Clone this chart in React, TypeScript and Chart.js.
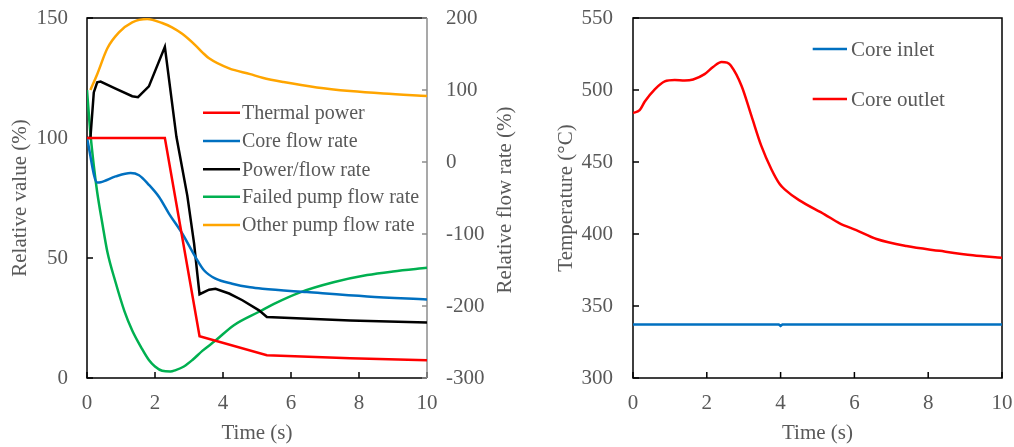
import React, { useEffect, useRef } from "react";
import { Chart, registerables } from "chart.js";
Chart.register(...registerables);

const FONT = "'Liberation Serif', 'Times New Roman', serif";
const TEXT = "#595959";

// ---------- Left panel data ----------
const T_THERMAL = [0, 2.29, 3.31, 5.29, 7.74, 10];
const THERMAL = [100, 100, 17.4, 9.5, 8.2, 7.4];

const T_CORE = [0, 0.3, 0.4, 0.84, 1.28, 1.53, 1.82, 2.12, 2.41, 2.8, 3.19, 3.44, 3.78, 4.27, 4.8, 5.16, 6.47, 8.24, 10];
const CORE = [100, 81.5, 81.6, 84, 85.4, 84.5, 80.5, 75.4, 68.5, 60.2, 50.4, 44.9, 41.4, 39.3, 37.8, 37.2, 35.8, 34, 32.7];

const T_RATIO = [0, 0.1, 0.2, 0.3, 0.4, 0.84, 1.33, 1.5, 1.82, 2.29, 2.63, 2.95, 3.15, 3.24, 3.31, 3.59, 3.78, 4.18, 4.57, 5.06, 5.29, 7.74, 10];
const RATIO = [100, 100, 119, 123.2, 123.5, 120.6, 117.4, 117, 121.5, 138, 100.5, 76, 56, 44, 34.9, 36.8, 37.2, 35.2, 32.4, 28.2, 25.4, 24, 23.1];

const T_FAILED = [0, 0.1, 0.2, 0.3, 0.45, 0.6, 0.84, 1.1, 1.33, 1.6, 1.82, 2.0, 2.21, 2.45, 2.61, 2.85, 3.1, 3.4, 3.78, 4.31, 5.06, 5.5, 6.27, 7.25, 8.24, 9, 10];
const FAILED = [100, 40, -5, -42, -85, -125, -167, -207, -234, -258, -275, -284, -290, -291, -289, -284, -275, -262, -248, -227, -208, -197, -181, -167, -157, -152, -147];

const T_OTHER = [0.1, 0.3, 0.6, 0.94, 1.33, 1.77, 2.21, 2.5, 2.8, 3.19, 3.4, 3.59, 4.18, 4.8, 5.16, 5.78, 6.76, 7.74, 8.72, 10];
const OTHER = [100, 122, 158, 180, 194, 198.5, 193, 187, 178, 162, 152, 144, 130, 122, 117, 111, 103.5, 98.5, 95, 91.7];

const LEFT_LABELS = ["Thermal power", "Core flow rate", "Power/flow rate", "Failed pump flow rate", "Other pump flow rate"];
const LEFT_COLORS = ["#FF0000", "#0070C0", "#000000", "#00B050", "#FFA500"];

// ---------- Right panel data ----------
const T_INLET = [0, 3.95, 4.0, 4.05, 10];
const INLET = [337.1, 337.1, 336.2, 337.1, 337.1];

const T_OUTLET = [0, 0.18, 0.32, 0.59, 0.86, 1.13, 1.4, 1.63, 1.94, 2.17, 2.4, 2.55, 2.65, 2.94, 3.21, 3.48, 3.75, 3.98, 4.11, 4.5, 5.2, 5.6, 6.05, 6.6, 7.41, 8.31, 9.21, 10];
const OUTLET = [484, 486, 492, 500.5, 506, 507, 506.6, 507.3, 511, 516, 519.5, 519, 517, 503, 482, 461, 445, 434.5, 431, 423.5, 413.5, 407.4, 402.7, 396.5, 391.6, 388.3, 385.3, 383.5];

const RIGHT_LABELS = ["Core inlet", "Core outlet"];
const RIGHT_COLORS = ["#0070C0", "#FF0000"];

const pts = (xs: number[], ys: number[]) => xs.map((x, i) => ({ x, y: ys[i] }));

const tickFont = { family: FONT, size: 21 };

const noPad = (s: any) => {
  s.paddingTop = 0;
  s.paddingBottom = 0;
  s.paddingLeft = 0;
  s.paddingRight = 0;
};

function drawLegend(ctx: CanvasRenderingContext2D, labels: string[], colors: string[], x0: number, x1: number, tx: number, ys: number[], size: number) {
  ctx.save();
  ctx.font = `${size}px ${FONT}`;
  ctx.textBaseline = "middle";
  ctx.textAlign = "left";
  labels.forEach((lab, i) => {
    ctx.strokeStyle = colors[i];
    ctx.lineWidth = 2.5;
    ctx.beginPath();
    ctx.moveTo(x0, ys[i]);
    ctx.lineTo(x1, ys[i]);
    ctx.stroke();
    ctx.fillStyle = TEXT;
    ctx.fillText(lab, tx, ys[i] + 1);
  });
  ctx.restore();
}

function LeftChart() {
  const ref = useRef<HTMLCanvasElement>(null);
  useEffect(() => {
    const mk = (label: string, xs: number[], ys: number[], color: string, axis: string, smooth: boolean) => ({
      label,
      data: pts(xs, ys),
      borderColor: color,
      backgroundColor: color,
      borderWidth: 2.5,
      pointRadius: 0,
      yAxisID: axis,
      cubicInterpolationMode: smooth ? "monotone" : "default",
      tension: 0,
    });
    const chart = new Chart(ref.current!, {
      type: "line",
      data: {
        datasets: [
          mk(LEFT_LABELS[0], T_THERMAL, THERMAL, LEFT_COLORS[0], "y", false),
          mk(LEFT_LABELS[1], T_CORE, CORE, LEFT_COLORS[1], "y", true),
          mk(LEFT_LABELS[2], T_RATIO, RATIO, LEFT_COLORS[2], "y", false),
          mk(LEFT_LABELS[3], T_FAILED, FAILED, LEFT_COLORS[3], "y2", true),
          mk(LEFT_LABELS[4], T_OTHER, OTHER, LEFT_COLORS[4], "y2", true),
        ] as any,
      },
      options: {
        animation: false,
        responsive: false,
        devicePixelRatio: 1,
        layout: { padding: { top: 18, left: 0, right: 0, bottom: 0 } },
        plugins: { legend: { display: false }, tooltip: { enabled: false } },
        scales: {
          x: {
            type: "linear",
            min: 0,
            max: 10,
            grid: { display: false, drawTicks: false },
            border: { display: false },
            ticks: { stepSize: 2, color: TEXT, font: tickFont, padding: 13, maxRotation: 0 },
            title: { display: true, text: "Time (s)", color: TEXT, font: tickFont, padding: { top: 0, bottom: 1.4 } },
            afterFit: (s: any) => { s.height = 69; noPad(s); },
          },
          y: {
            position: "left",
            min: 0,
            max: 150,
            grid: { display: false, drawTicks: false },
            border: { display: false },
            ticks: { stepSize: 50, color: TEXT, font: tickFont, padding: 19 },
            title: { display: true, text: "Relative value (%)", color: TEXT, font: tickFont, padding: { top: 8, bottom: 0 } },
            afterFit: (s: any) => { s.width = 87; noPad(s); },
          },
          y2: {
            position: "right",
            min: -300,
            max: 200,
            grid: { display: false, drawTicks: false },
            border: { display: false },
            ticks: { stepSize: 100, color: TEXT, font: tickFont, padding: 19 },
            title: { display: false },
            afterFit: (s: any) => { s.width = 103; noPad(s); },
          },
        },
      } as any,
      plugins: [
        {
          id: "leftFrame",
          beforeDatasetsDraw(c: any) {
            const { ctx, chartArea: a, scales } = c;
            ctx.save();
            ctx.lineWidth = 1.5;
            ctx.strokeStyle = "#000";
            ctx.beginPath();
            ctx.moveTo(a.right, a.top);
            ctx.lineTo(a.left, a.top);
            ctx.lineTo(a.left, a.bottom);
            ctx.lineTo(a.right, a.bottom);
            ctx.stroke();
            scales.x.ticks.forEach((t: any) => {
              const x = scales.x.getPixelForValue(t.value);
              ctx.beginPath(); ctx.moveTo(x, a.bottom); ctx.lineTo(x, a.bottom - 6); ctx.stroke();
            });
            scales.y.ticks.forEach((t: any) => {
              const y = scales.y.getPixelForValue(t.value);
              ctx.beginPath(); ctx.moveTo(a.left, y); ctx.lineTo(a.left + 6, y); ctx.stroke();
            });
            ctx.strokeStyle = "#8c8c8c";
            ctx.beginPath(); ctx.moveTo(a.right, a.top); ctx.lineTo(a.right, a.bottom); ctx.stroke();
            scales.y2.ticks.forEach((t: any) => {
              const y = scales.y2.getPixelForValue(t.value);
              ctx.beginPath(); ctx.moveTo(a.right, y); ctx.lineTo(a.right - 5, y); ctx.stroke();
            });
            ctx.restore();
          },
          afterDraw(c: any) {
            const ctx = c.ctx as CanvasRenderingContext2D;
            drawLegend(ctx, LEFT_LABELS, LEFT_COLORS, 203, 240, 242, [112.7, 141, 169.3, 196.7, 225], 20);
            ctx.save();
            ctx.font = `21px ${FONT}`;
            ctx.fillStyle = TEXT;
            ctx.textAlign = "center";
            ctx.textBaseline = "middle";
            ctx.translate(505, 200);
            ctx.rotate(-Math.PI / 2);
            ctx.fillText("Relative flow rate (%)", 0, 0);
            ctx.restore();
          },
        },
      ],
    });
    return () => chart.destroy();
  }, []);
  return <canvas ref={ref} width={530} height={447} style={{ position: "absolute", left: 0, top: 0, width: 530, height: 447 }} />;
}

function RightChart() {
  const ref = useRef<HTMLCanvasElement>(null);
  useEffect(() => {
    const chart = new Chart(ref.current!, {
      type: "line",
      data: {
        datasets: [
          { label: RIGHT_LABELS[0], data: pts(T_INLET, INLET), borderColor: RIGHT_COLORS[0], borderWidth: 2.5, pointRadius: 0, tension: 0 },
          { label: RIGHT_LABELS[1], data: pts(T_OUTLET, OUTLET), borderColor: RIGHT_COLORS[1], borderWidth: 2.5, pointRadius: 0, cubicInterpolationMode: "monotone" },
        ] as any,
      },
      options: {
        animation: false,
        responsive: false,
        devicePixelRatio: 1,
        layout: { padding: { top: 18, left: 0, right: 12, bottom: 0 } },
        plugins: { legend: { display: false }, tooltip: { enabled: false } },
        scales: {
          x: {
            type: "linear",
            min: 0,
            max: 10,
            grid: { display: false, drawTicks: false },
            border: { display: false },
            ticks: { stepSize: 2, color: TEXT, font: tickFont, padding: 13, maxRotation: 0 },
            title: { display: true, text: "Time (s)", color: TEXT, font: tickFont, padding: { top: 0, bottom: 1.4 } },
            afterFit: (s: any) => { s.height = 69; noPad(s); },
          },
          y: {
            position: "left",
            min: 300,
            max: 550,
            grid: { display: false, drawTicks: false },
            border: { display: false },
            ticks: { stepSize: 50, color: TEXT, font: tickFont, padding: 20 },
            title: { display: true, text: "Temperature (°C)", color: TEXT, font: tickFont, padding: { top: 23.4, bottom: 0 } },
            afterFit: (s: any) => { s.width = 103; noPad(s); },
          },
        },
      } as any,
      plugins: [
        {
          id: "rightFrame",
          beforeDatasetsDraw(c: any) {
            const { ctx, chartArea: a, scales } = c;
            ctx.save();
            ctx.lineWidth = 1.5;
            ctx.strokeStyle = "#000";
            ctx.strokeRect(a.left, a.top, a.right - a.left, a.bottom - a.top);
            scales.x.ticks.forEach((t: any) => {
              const x = scales.x.getPixelForValue(t.value);
              ctx.beginPath(); ctx.moveTo(x, a.bottom); ctx.lineTo(x, a.bottom - 6); ctx.stroke();
            });
            scales.y.ticks.forEach((t: any) => {
              const y = scales.y.getPixelForValue(t.value);
              ctx.beginPath(); ctx.moveTo(a.left, y); ctx.lineTo(a.left + 6, y); ctx.stroke();
            });
            ctx.restore();
          },
          afterDraw(c: any) {
            drawLegend(c.ctx, RIGHT_LABELS, RIGHT_COLORS, 282.7, 317, 321, [49, 99], 21);
          },
        },
      ],
    });
    return () => chart.destroy();
  }, []);
  return <canvas ref={ref} width={484} height={447} style={{ position: "absolute", left: 530, top: 0, width: 484, height: 447 }} />;
}

export default function App() {
  return (
    <div style={{ position: "absolute", left: 0, top: 0, width: 1014, height: 447, background: "#fff" }}>
      <LeftChart />
      <RightChart />
    </div>
  );
}
